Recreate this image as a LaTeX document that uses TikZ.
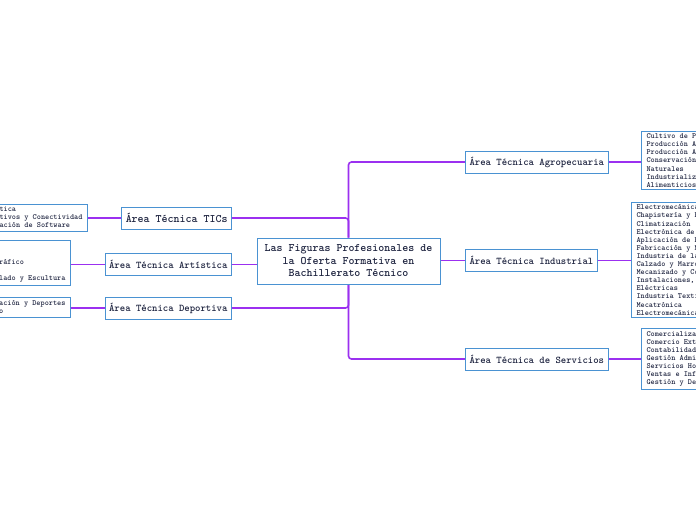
\documentclass[tikz,border=0pt]{standalone}
\usepackage{fontspec}
\newfontfamily\mapfont{lmmonolt10-bold.otf}
\usetikzlibrary{positioning,backgrounds}
\definecolor{branchline}{HTML}{9B30F0}
\definecolor{boxline}{HTML}{4A92D2}
\definecolor{boxtext}{HTML}{1E2440}

\begin{document}
\begin{tikzpicture}[x=1pt, y=-1pt,
    topic/.style={draw=boxline, line width=1pt, fill=white, text=boxtext,
      font=\mapfont\fontsize{10.25}{11}\selectfont, minimum height=22pt, inner xsep=4pt},
    leaf/.style={draw=boxline, line width=1pt, fill=white, text=boxtext, align=left,
      font=\mapfont\fontsize{7.9}{8.1}\selectfont, inner xsep=5pt, inner ysep=2.5pt},
    branch/.style={draw=branchline, line width=1.6pt, rounded corners=3pt}]
    \clip (0,0) rectangle (696,520);

    % Central topic
    \node[topic, align=center, minimum width=183pt, minimum height=46pt,
      font=\mapfont\fontsize{11.4}{12.5}\selectfont] (root) at (348.5,261)
      {Las Figuras Profesionales de\\la Oferta Formativa en\\Bachillerato Técnico};

    % Left branches
    \node[topic, anchor=east, font=\mapfont\fontsize{11.4}{12}\selectfont] (tics) at (232,218) {Área Técnica TICs};
    \node[topic, anchor=east] (art) at (232,264.5) {Área Técnica Artística};
    \node[topic, anchor=east] (dep) at (232,308) {Área Técnica Deportiva};

    \node[leaf, anchor=east] (ticsleaf) at (88,218)
      {Informática\\Dispositivos y Conectividad\\Programación de Software};
    \node[leaf, anchor=east] (artleaf) at (71,263)
      {Música\\Cerámica\\Diseño Gráfico\\Danza\\Arte Tallado y Escultura};
    \node[leaf, anchor=east] (depleaf) at (71,307.5)
      {Animación, Recreación y Deportes\\Turismo Deportivo};

    % Right branches
    \node[topic, anchor=west] (agro) at (465,162) {Área Técnica Agropecuaria};
    \node[topic, anchor=west] (ind) at (465,260.5) {Área Técnica Industrial};
    \node[topic, anchor=west] (serv) at (465,359) {Área Técnica de Servicios};

    \node[leaf, anchor=west] (agroleaf) at (641,160.5)
      {Cultivo de Peces, Moluscos y Crustáceos\\Producción Agropecuaria\\Producción Acuícola\\Conservación y Manejo de Recursos\\Naturales\\Industrialización de Productos\\Alimenticios};
    \node[leaf, anchor=west] (indleaf) at (631,260)
      {Electromecánica Automotriz\\Chapistería y Pintura\\Climatización\\Electrónica de Consumo\\Aplicación de Proyectos de Construcción\\Fabricación y Montaje de Muebles\\Industria de la Confección\\Calzado y Marroquinería\\Mecanizado y Construcciones Metálicas\\Instalaciones, Equipos y Máquinas\\Eléctricas\\Industria Textil\\Mecatrónica\\Electromecánica Industrial};
    \node[leaf, anchor=west] (servleaf) at (641,359)
      {Comercialización y Ventas\\Comercio Exterior\\Contabilidad\\Gestión Administrativa\\Servicios Hoteleros\\Ventas e Información Turística\\Gestión y Desarrollo Turístico};

    % Connectors
    \begin{scope}[on background layer]
      \fill[white] (0,0) rectangle (696,520);
      \draw[branch] (root.north) |- (tics.east);
      \draw[branch] (root.west |- art.east) -- (art.east);
      \draw[branch] (root.south) |- (dep.east);
      \draw[branch] (root.north) |- (agro.west);
      \draw[branch] (root.east |- ind.west) -- (ind.west);
      \draw[branch] (root.south) |- (serv.west);
      \draw[branch] (tics.west) -- (ticsleaf.east);
      \draw[branch] (art.west) -- (art.west -| artleaf.east);
      \draw[branch] (dep.west) -- (dep.west -| depleaf.east);
      \draw[branch] (agro.east) -- (agro.east -| agroleaf.west);
      \draw[branch] (ind.east) -- (ind.east -| indleaf.west);
      \draw[branch] (serv.east) -- (serv.east -| servleaf.west);
    \end{scope}
\end{tikzpicture}
\end{document}
